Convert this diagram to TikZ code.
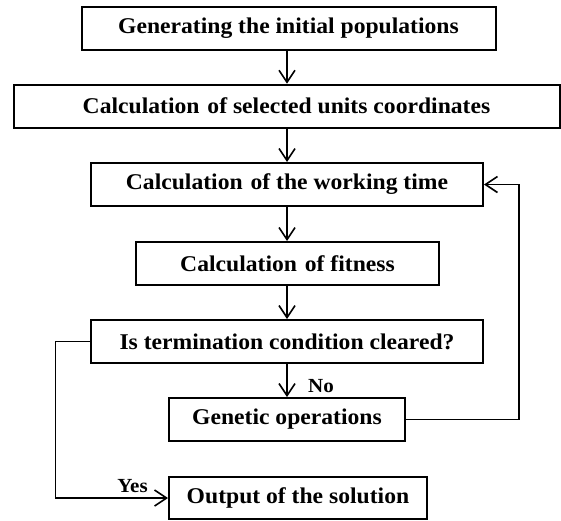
\documentclass[tikz,border=0pt]{standalone}
\usepackage{fontspec}
\setmainfont{Liberation Serif}[FakeStretch=1.05]
\usetikzlibrary{arrows.meta}
\begin{document}
\begin{tikzpicture}[x=1pt,y=-1pt,
  box/.style={draw,line width=2pt,rectangle,inner sep=0pt,font=\fontsize{22.5}{24}\selectfont\bfseries},
  flow/.style={line width=1.6pt,-{Straight Barb[length=12pt,width=16pt,line width=1.6pt]}},
  lbl/.style={font=\fontsize{20}{22}\selectfont\bfseries,inner sep=0pt}]
\useasboundingbox (0,0) rectangle (561,520);
\node[box,minimum width=414pt,minimum height=43pt] (b1) at (288.5,28.5) {Generating the initial populations};
\node[box,minimum width=546pt,minimum height=43pt] (b2) at (286.5,106.2) {Calculation\hspace{0.35em}of selected units coordinates};
\node[box,minimum width=392pt,minimum height=43pt] (b3) at (287,184.5) {Calculation\hspace{0.35em}of the working time};
\node[box,minimum width=303pt,minimum height=43pt] (b4) at (287.5,263.5) {Calculation\hspace{0.35em}of fitness};
\node[box,minimum width=392pt,minimum height=43pt] (b5) at (287,341.5) {Is termination condition cleared?};
\node[box,minimum width=236pt,minimum height=43pt] (b6) at (287,419.5) {Genetic operations};
\node[box,minimum width=258pt,minimum height=42pt] (b7) at (298,498) {Output of the solution};
\node[lbl] (no) at (321,386) {No};
\node[lbl] (yes) at (132.5,486) {Yes};
\coordinate (fb) at (519,419.5);
\coordinate (yl) at (55.5,341.5);
\draw[flow] (b1.south -| 287,0) -- (b2.north -| 287,0);
\draw[flow] (b2.south -| 287,0) -- (b3.north -| 287,0);
\draw[flow] (b3.south -| 287,0) -- (b4.north -| 287,0);
\draw[flow] (b4.south -| 287,0) -- (b5.north -| 287,0);
\draw[flow] (b5.south -| 287,0) -- (b6.north -| 287,0);
\draw[flow] (b6.east) -- (fb) |- (b3.east);
\draw[flow] (b5.west) -- (yl) |- (b7.west);
\end{tikzpicture}
\end{document}
